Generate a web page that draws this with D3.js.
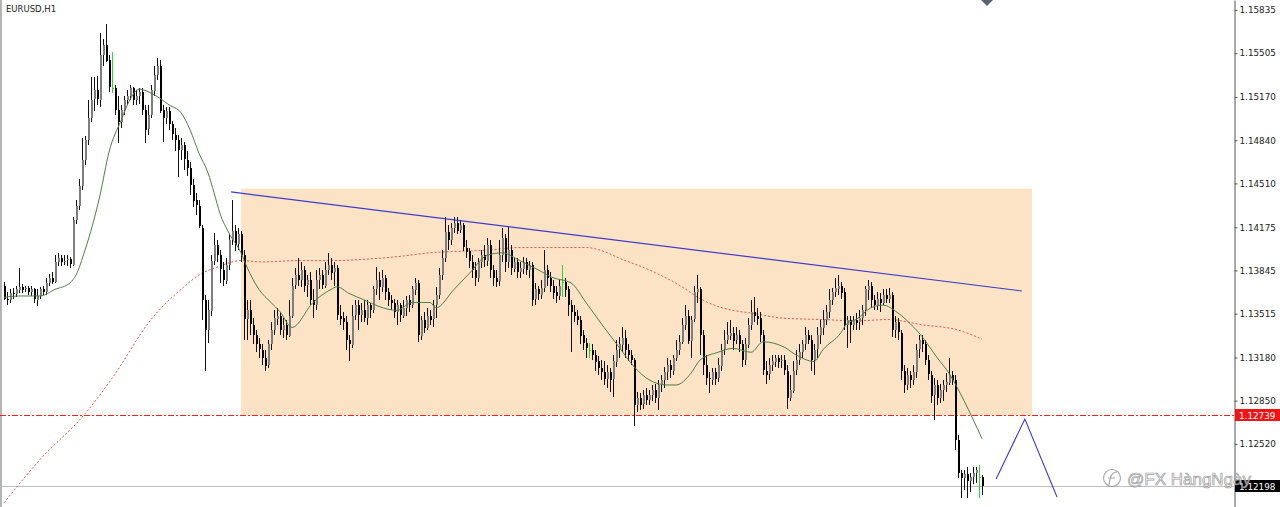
<!DOCTYPE html>
<html><head><meta charset="utf-8">
<script src="https://cdn.jsdelivr.net/npm/d3@7"></script>
<style>html,body{margin:0;padding:0;background:#fff;overflow:hidden}</style>
</head><body>
<svg id="c" width="1280" height="507"></svg>
<script>
const symbolTitle = "EURUSD,H1";
const watermark = "@FX HàngNgày";

const open = [
1.1373,1.1363,1.1362,1.1367,1.1366,1.1370,1.1372,1.1370,1.1371,1.1368,
1.1370,1.1362,1.1365,1.1370,1.1368,1.1375,1.1379,1.1376,1.1391,1.1394,
1.1391,1.1392,1.1393,1.1389,1.1423,1.1434,1.1449,1.1469,1.1484,1.1501,
1.1515,1.1522,1.1515,1.1549,1.1557,1.1545,1.1524,1.1524,1.1507,1.1498,
1.1507,1.1515,1.1518,1.1524,1.1515,1.1518,1.1521,1.1507,1.1492,1.1503,
1.1522,1.1534,1.1541,1.1507,1.1501,1.1506,1.1496,1.1488,1.1484,1.1476,
1.1480,1.1469,1.1463,1.1450,1.1438,1.1434,1.1417,1.1362,1.1339,1.1354,
1.1392,1.1404,1.1396,1.1385,1.1377,1.1389,1.1408,1.1415,1.1404,1.1412,
1.1396,1.1347,1.1354,1.1343,1.1335,1.1328,1.1324,1.1318,1.1312,1.1328,
1.1339,1.1348,1.1350,1.1339,1.1343,1.1335,1.1350,1.1373,1.1381,1.1377,
1.1385,1.1373,1.1377,1.1362,1.1358,1.1377,1.1381,1.1373,1.1385,1.1389,
1.1383,1.1386,1.1350,1.1348,1.1345,1.1331,1.1328,1.1350,1.1358,1.1350,
1.1354,1.1348,1.1358,1.1354,1.1370,1.1377,1.1372,1.1379,1.1368,1.1362,
1.1360,1.1353,1.1358,1.1350,1.1356,1.1362,1.1358,1.1370,1.1375,1.1335,
1.1347,1.1341,1.1350,1.1347,1.1358,1.1366,1.1381,1.1394,1.1414,1.1408,
1.1417,1.1421,1.1415,1.1419,1.1402,1.1399,1.1391,1.1385,1.1379,1.1391,
1.1396,1.1392,1.1404,1.1385,1.1379,1.1376,1.1396,1.1409,1.1391,1.1400,
1.1386,1.1391,1.1383,1.1386,1.1391,1.1385,1.1389,1.1362,1.1370,1.1366,
1.1371,1.1385,1.1379,1.1373,1.1368,1.1365,1.1376,1.1376,1.1370,1.1358,
1.1353,1.1350,1.1347,1.1335,1.1329,1.1324,1.1324,1.1320,1.1315,1.1310,
1.1307,1.1302,1.1307,1.1301,1.1315,1.1324,1.1328,1.1333,1.1324,1.1320,
1.1316,1.1282,1.1287,1.1282,1.1289,1.1285,1.1289,1.1293,1.1287,1.1297,
1.1301,1.1307,1.1312,1.1308,1.1318,1.1324,1.1330,1.1343,1.1350,1.1331,
1.1347,1.1368,1.1370,1.1335,1.1312,1.1302,1.1301,1.1307,1.1302,1.1312,
1.1324,1.1331,1.1335,1.1337,1.1331,1.1335,1.1328,1.1316,1.1328,1.1343,
1.1353,1.1350,1.1348,1.1335,1.1308,1.1305,1.1312,1.1315,1.1318,1.1315,
1.1316,1.1308,1.1287,1.1293,1.1308,1.1316,1.1322,1.1328,1.1335,1.1331,
1.1316,1.1324,1.1335,1.1341,1.1347,1.1353,1.1362,1.1368,1.1371,1.1373,
1.1368,1.1343,1.1347,1.1343,1.1347,1.1345,1.1348,1.1354,1.1370,1.1373,
1.1362,1.1358,1.1363,1.1360,1.1366,1.1363,1.1366,1.1339,1.1345,1.1337,
1.1308,1.1297,1.1305,1.1301,1.1307,1.1324,1.1331,1.1328,1.1316,1.1305,
1.1289,1.1297,1.1287,1.1293,1.1297,1.1299,1.1305,1.1301,1.1255,1.1230,
1.1226,1.1229,1.1224,1.1227,1.1230,1.1227,1.1227];

const high = [
1.1376,1.1368,1.1370,1.1371,1.1373,1.1386,1.1374,1.1373,1.1373,1.1373,
1.1371,1.1370,1.1372,1.1373,1.1379,1.1382,1.1383,1.1396,1.1398,1.1396,
1.1396,1.1396,1.1395,1.1425,1.1438,1.1454,1.1486,1.1487,1.1515,1.1532,
1.1532,1.1533,1.1566,1.1561,1.1573,1.1549,1.1551,1.1526,1.1518,1.1511,
1.1518,1.1522,1.1526,1.1525,1.1522,1.1524,1.1524,1.1511,1.1511,1.1526,
1.1541,1.1547,1.1545,1.1511,1.1509,1.1509,1.1499,1.1493,1.1488,1.1486,
1.1483,1.1476,1.1467,1.1454,1.1444,1.1438,1.1419,1.1366,1.1362,1.1396,
1.1413,1.1408,1.1400,1.1391,1.1394,1.1412,1.1438,1.1419,1.1417,1.1415,
1.1400,1.1362,1.1362,1.1348,1.1339,1.1333,1.1328,1.1324,1.1331,1.1345,
1.1354,1.1356,1.1353,1.1348,1.1347,1.1362,1.1379,1.1386,1.1394,1.1391,
1.1388,1.1381,1.1383,1.1370,1.1385,1.1386,1.1385,1.1391,1.1398,1.1394,
1.1391,1.1389,1.1358,1.1353,1.1350,1.1335,1.1358,1.1362,1.1362,1.1360,
1.1362,1.1362,1.1360,1.1373,1.1387,1.1383,1.1385,1.1381,1.1371,1.1366,
1.1363,1.1362,1.1360,1.1362,1.1365,1.1366,1.1373,1.1379,1.1377,1.1350,
1.1353,1.1356,1.1354,1.1362,1.1372,1.1386,1.1400,1.1425,1.1419,1.1421,
1.1425,1.1425,1.1423,1.1421,1.1408,1.1402,1.1396,1.1391,1.1394,1.1400,
1.1404,1.1409,1.1408,1.1389,1.1385,1.1408,1.1417,1.1412,1.1418,1.1404,
1.1394,1.1394,1.1391,1.1395,1.1394,1.1392,1.1391,1.1375,1.1373,1.1377,
1.1400,1.1389,1.1383,1.1377,1.1373,1.1377,1.1389,1.1379,1.1373,1.1362,
1.1358,1.1354,1.1350,1.1339,1.1333,1.1329,1.1328,1.1324,1.1319,1.1316,
1.1315,1.1312,1.1310,1.1320,1.1331,1.1334,1.1341,1.1339,1.1328,1.1324,
1.1318,1.1292,1.1291,1.1293,1.1295,1.1293,1.1297,1.1298,1.1301,1.1305,
1.1311,1.1318,1.1316,1.1320,1.1331,1.1335,1.1348,1.1358,1.1354,1.1350,
1.1373,1.1381,1.1372,1.1339,1.1320,1.1307,1.1310,1.1310,1.1318,1.1328,
1.1339,1.1345,1.1347,1.1341,1.1341,1.1339,1.1331,1.1333,1.1348,1.1362,
1.1364,1.1356,1.1353,1.1339,1.1315,1.1318,1.1320,1.1320,1.1320,1.1320,
1.1320,1.1312,1.1305,1.1315,1.1324,1.1328,1.1331,1.1341,1.1339,1.1335,
1.1328,1.1341,1.1347,1.1354,1.1358,1.1370,1.1371,1.1379,1.1381,1.1376,
1.1371,1.1350,1.1350,1.1350,1.1352,1.1354,1.1358,1.1373,1.1377,1.1376,
1.1366,1.1368,1.1367,1.1370,1.1370,1.1371,1.1368,1.1350,1.1348,1.1339,
1.1312,1.1310,1.1308,1.1312,1.1328,1.1335,1.1335,1.1331,1.1320,1.1308,
1.1302,1.1301,1.1298,1.1301,1.1306,1.1318,1.1308,1.1305,1.1259,1.1232,
1.1232,1.1234,1.1230,1.1234,1.1234,1.1236,1.1228];

const low = [
1.1362,1.1358,1.1360,1.1363,1.1364,1.1367,1.1367,1.1368,1.1366,1.1365,
1.1360,1.1357,1.1363,1.1366,1.1366,1.1373,1.1374,1.1375,1.1388,1.1388,
1.1389,1.1388,1.1386,1.1388,1.1420,1.1431,1.1446,1.1465,1.1480,1.1498,
1.1506,1.1511,1.1509,1.1541,1.1544,1.1521,1.1520,1.1503,1.1482,1.1493,
1.1503,1.1511,1.1515,1.1511,1.1511,1.1512,1.1503,1.1482,1.1488,1.1501,
1.1518,1.1530,1.1505,1.1483,1.1496,1.1492,1.1484,1.1476,1.1456,1.1469,
1.1461,1.1457,1.1442,1.1433,1.1427,1.1417,1.1347,1.1308,1.1329,1.1350,
1.1389,1.1391,1.1375,1.1373,1.1374,1.1385,1.1404,1.1399,1.1400,1.1391,
1.1331,1.1331,1.1335,1.1328,1.1322,1.1318,1.1312,1.1308,1.1310,1.1324,
1.1335,1.1343,1.1335,1.1333,1.1331,1.1334,1.1348,1.1370,1.1373,1.1372,
1.1368,1.1364,1.1358,1.1348,1.1354,1.1370,1.1370,1.1371,1.1381,1.1377,
1.1373,1.1347,1.1343,1.1339,1.1324,1.1315,1.1325,1.1347,1.1339,1.1345,
1.1345,1.1343,1.1348,1.1352,1.1366,1.1362,1.1368,1.1362,1.1357,1.1354,
1.1348,1.1343,1.1345,1.1348,1.1350,1.1353,1.1356,1.1366,1.1330,1.1331,
1.1337,1.1339,1.1343,1.1341,1.1348,1.1363,1.1377,1.1391,1.1400,1.1404,
1.1413,1.1412,1.1413,1.1399,1.1394,1.1386,1.1379,1.1373,1.1376,1.1386,
1.1387,1.1388,1.1379,1.1373,1.1372,1.1373,1.1391,1.1383,1.1386,1.1381,
1.1383,1.1379,1.1379,1.1382,1.1381,1.1379,1.1357,1.1358,1.1362,1.1363,
1.1368,1.1373,1.1368,1.1363,1.1360,1.1362,1.1364,1.1364,1.1350,1.1322,
1.1345,1.1343,1.1328,1.1324,1.1318,1.1318,1.1316,1.1308,1.1305,1.1301,
1.1297,1.1295,1.1292,1.1288,1.1311,1.1318,1.1322,1.1318,1.1315,1.1312,
1.1266,1.1276,1.1278,1.1279,1.1282,1.1282,1.1285,1.1283,1.1278,1.1292,
1.1295,1.1301,1.1302,1.1305,1.1315,1.1320,1.1328,1.1339,1.1328,1.1318,
1.1345,1.1360,1.1320,1.1305,1.1297,1.1291,1.1297,1.1297,1.1299,1.1308,
1.1320,1.1328,1.1331,1.1324,1.1328,1.1322,1.1311,1.1312,1.1325,1.1339,
1.1345,1.1343,1.1330,1.1305,1.1298,1.1301,1.1308,1.1311,1.1310,1.1310,
1.1305,1.1279,1.1285,1.1291,1.1305,1.1312,1.1318,1.1324,1.1328,1.1308,
1.1305,1.1318,1.1328,1.1335,1.1343,1.1348,1.1358,1.1364,1.1366,1.1363,
1.1339,1.1325,1.1329,1.1339,1.1339,1.1339,1.1343,1.1350,1.1362,1.1356,
1.1354,1.1354,1.1353,1.1358,1.1360,1.1360,1.1334,1.1333,1.1331,1.1301,
1.1291,1.1293,1.1295,1.1297,1.1302,1.1318,1.1322,1.1312,1.1301,1.1283,
1.1270,1.1282,1.1283,1.1285,1.1292,1.1297,1.1297,1.1247,1.1226,1.1211,
1.1217,1.1211,1.1215,1.1221,1.1222,1.1211,1.1213];

const close = [
1.1363,1.1362,1.1367,1.1366,1.1370,1.1372,1.1370,1.1371,1.1368,1.1370,
1.1362,1.1365,1.1370,1.1368,1.1375,1.1379,1.1376,1.1391,1.1394,1.1391,
1.1392,1.1393,1.1389,1.1423,1.1434,1.1449,1.1469,1.1484,1.1501,1.1515,
1.1522,1.1515,1.1549,1.1557,1.1545,1.1524,1.1524,1.1507,1.1498,1.1507,
1.1515,1.1518,1.1524,1.1515,1.1518,1.1521,1.1507,1.1492,1.1503,1.1522,
1.1534,1.1541,1.1507,1.1501,1.1506,1.1496,1.1488,1.1484,1.1476,1.1480,
1.1469,1.1463,1.1450,1.1438,1.1434,1.1419,1.1362,1.1339,1.1354,1.1392,
1.1404,1.1396,1.1385,1.1377,1.1389,1.1408,1.1415,1.1404,1.1412,1.1396,
1.1347,1.1354,1.1343,1.1335,1.1328,1.1324,1.1318,1.1312,1.1328,1.1339,
1.1348,1.1350,1.1339,1.1343,1.1335,1.1350,1.1373,1.1381,1.1377,1.1385,
1.1373,1.1377,1.1362,1.1358,1.1377,1.1381,1.1373,1.1385,1.1389,1.1383,
1.1386,1.1350,1.1348,1.1345,1.1331,1.1328,1.1350,1.1358,1.1350,1.1354,
1.1348,1.1358,1.1354,1.1370,1.1377,1.1372,1.1379,1.1368,1.1362,1.1360,
1.1353,1.1358,1.1350,1.1356,1.1362,1.1358,1.1370,1.1375,1.1335,1.1347,
1.1341,1.1350,1.1347,1.1358,1.1366,1.1381,1.1394,1.1414,1.1408,1.1417,
1.1421,1.1415,1.1419,1.1402,1.1399,1.1391,1.1385,1.1379,1.1391,1.1396,
1.1392,1.1404,1.1385,1.1379,1.1376,1.1396,1.1409,1.1391,1.1400,1.1386,
1.1391,1.1383,1.1386,1.1391,1.1385,1.1389,1.1362,1.1370,1.1366,1.1371,
1.1385,1.1379,1.1373,1.1368,1.1365,1.1373,1.1376,1.1370,1.1358,1.1353,
1.1350,1.1347,1.1335,1.1329,1.1325,1.1324,1.1320,1.1315,1.1310,1.1307,
1.1302,1.1307,1.1301,1.1315,1.1324,1.1328,1.1333,1.1324,1.1320,1.1316,
1.1282,1.1287,1.1282,1.1289,1.1285,1.1289,1.1293,1.1287,1.1297,1.1301,
1.1307,1.1312,1.1308,1.1318,1.1324,1.1330,1.1343,1.1350,1.1331,1.1347,
1.1368,1.1370,1.1335,1.1312,1.1302,1.1301,1.1307,1.1302,1.1312,1.1324,
1.1331,1.1335,1.1337,1.1331,1.1335,1.1328,1.1316,1.1328,1.1343,1.1353,
1.1350,1.1348,1.1335,1.1308,1.1305,1.1312,1.1315,1.1318,1.1315,1.1316,
1.1308,1.1287,1.1293,1.1308,1.1316,1.1322,1.1328,1.1335,1.1331,1.1316,
1.1324,1.1335,1.1341,1.1347,1.1353,1.1362,1.1368,1.1371,1.1373,1.1368,
1.1343,1.1347,1.1343,1.1347,1.1345,1.1348,1.1354,1.1370,1.1373,1.1362,
1.1358,1.1363,1.1360,1.1366,1.1363,1.1366,1.1339,1.1345,1.1337,1.1308,
1.1297,1.1305,1.1301,1.1307,1.1324,1.1331,1.1328,1.1316,1.1305,1.1289,
1.1297,1.1287,1.1293,1.1297,1.1299,1.1305,1.1301,1.1255,1.1230,1.1226,
1.1229,1.1224,1.1227,1.1230,1.1232,1.1227,1.12198];

// fast moving average (green), sampled at bar indices
const maFastIdx = [0,5,12,17,22,24,27,32,35,39,42,45,49,52,55,59,62,65,68,70,72,75,79,81,85,89,92,96,103,109,111,115,120,125,131,136,142,144,150,155,161,166,172,178,183,189,194,200,205,210,215,221,224,229,232,238,243,249,253,260,264,270,273,279,281,284,289,293,298,302,306,311,315,320,326];
const maFast = [1.1364,1.1365,1.1365,1.1370,1.1375,1.1381,1.1400,1.1442,1.1475,1.1499,1.1515,1.1523,1.1520,1.1516,1.1511,1.1505,1.1492,1.1474,1.1459,1.1444,1.1428,1.1413,1.1398,1.1387,1.1370,1.1360,1.1353,1.1341,1.1360,1.1370,1.1372,1.1367,1.1362,1.1357,1.1354,1.1360,1.1360,1.1356,1.1370,1.1382,1.1396,1.1398,1.1392,1.1385,1.1379,1.1375,1.1360,1.1341,1.1326,1.1311,1.1301,1.1297,1.1297,1.1306,1.1316,1.1322,1.1325,1.1322,1.1330,1.1326,1.1320,1.1315,1.1324,1.1337,1.1344,1.1347,1.1356,1.1358,1.1352,1.1344,1.1334,1.1318,1.1306,1.1285,1.1256];

// slow moving average (red dotted)
const maSlowIdx = [0,12,27,36,49,60,65,71,79,86,98,109,120,131,142,150,161,172,183,189,194,200,205,215,226,232,238,243,249,260,273,284,295,306,318,326];
const maSlow = [1.1207,1.1240,1.1275,1.1302,1.1347,1.1372,1.1381,1.1387,1.1392,1.1391,1.1392,1.1392,1.1393,1.1395,1.1398,1.1399,1.1400,1.1402,1.1402,1.1402,1.1402,1.1399,1.1394,1.1385,1.1372,1.1363,1.1357,1.1354,1.1352,1.1348,1.1347,1.1346,1.1347,1.1343,1.1339,1.1332];

const priceTicks = [1.15835,1.15505,1.15170,1.14840,1.14510,1.14175,1.13845,1.13515,1.13180,1.12850,1.12520];
const levelPrice = 1.12739;
const bidPrice = 1.12198;

// drawn objects in (bar index, price)
const zoneBars = [79, 342.7];
const zonePrices = [1.14470, 1.12739];
const trendBars = [75.7, 339.3];
const trendPrices = [1.14445, 1.13688];
const zigzagBars = [330.7, 340.3, 351];
const zigzagPrices = [1.12252, 1.12710, 1.12114];

const W = 1280, H = 507;
const svg = d3.select("#c");
const x = d3.scaleLinear().domain([0, close.length - 1]).range([4, 982]);
const y = d3.scaleLinear().domain([1.12038, 1.15911]).range([H, 0]);

svg.append("rect").attr("width", W).attr("height", H).attr("fill", "#fff");
svg.append("rect").attr("x", 0).attr("y", 0).attr("width", 2).attr("height", H).attr("fill", "#b4b4b4");

// zone rectangle
svg.append("rect")
  .attr("x", x(zoneBars[0])).attr("y", y(zonePrices[0]))
  .attr("width", x(zoneBars[1]) - x(zoneBars[0]))
  .attr("height", y(zonePrices[1]) - y(zonePrices[0]))
  .attr("fill", "#fde3c5");

// horizontal level line
const ly = Math.round(y(levelPrice)) + 0.5;
svg.append("line").attr("x1", 0).attr("x2", 1234)
  .attr("y1", ly).attr("y2", ly)
  .attr("stroke", "#ff1e1e").attr("stroke-width", 1).attr("stroke-dasharray", "6,2,2,2");
// bid line
const by = Math.round(y(bidPrice)) + 0.5;
svg.append("line").attr("x1", 0).attr("x2", 1234)
  .attr("y1", by).attr("y2", by)
  .attr("stroke", "#bdbdbd").attr("stroke-width", 1);

// slow MA
const slowPts = maSlowIdx.map((d, k) => [d, maSlow[k]]);
svg.append("path").datum(slowPts)
  .attr("d", d3.line().x(d => x(d[0])).y(d => y(d[1])).curve(d3.curveMonotoneX))
  .attr("fill", "none").attr("stroke", "#e4524c").attr("stroke-width", 1).attr("stroke-dasharray", "2,2");

// candles
const idx = d3.range(close.length);
const isDoji = i => Math.abs(close[i] - open[i]) < 1e-9;
const cg = svg.append("g").attr("shape-rendering", "crispEdges");
cg.selectAll("line.wick").data(idx).join("line").attr("class", "wick")
  .attr("x1", i => Math.round(x(i)) + 0.5).attr("x2", i => Math.round(x(i)) + 0.5)
  .attr("y1", i => y(high[i])).attr("y2", i => y(low[i]))
  .attr("stroke", i => isDoji(i) ? "#2fd42f" : "#111").attr("stroke-width", 1);
cg.selectAll("rect.body").data(idx).join("rect").attr("class", "body")
  .attr("x", i => Math.round(x(i)))
  .attr("width", 2)
  .attr("y", i => Math.round(y(Math.max(open[i], close[i]))))
  .attr("height", i => Math.max(1, Math.round(Math.abs(y(open[i]) - y(close[i])))))
  .attr("fill", i => isDoji(i) ? "#2fd42f" : (close[i] > open[i] ? "#7e7e7e" : "#000"));

// fast MA
const fastPts = maFastIdx.map((d, k) => [d, maFast[k]]);
svg.append("path").datum(fastPts)
  .attr("d", d3.line().x(d => x(d[0])).y(d => y(d[1])).curve(d3.curveMonotoneX))
  .attr("fill", "none").attr("stroke", "#4b7f45").attr("stroke-width", 1);

// trendline
svg.append("line")
  .attr("x1", x(trendBars[0])).attr("y1", y(trendPrices[0]))
  .attr("x2", x(trendBars[1])).attr("y2", y(trendPrices[1]))
  .attr("stroke", "#3c3cc8").attr("stroke-width", 1.2);
// zigzag
svg.append("path").datum(zigzagBars.map((b, k) => [b, zigzagPrices[k]]))
  .attr("d", d3.line().x(d => x(d[0])).y(d => y(d[1])))
  .attr("fill", "none").attr("stroke", "#3c3cc8").attr("stroke-width", 1.1);

// price axis
const axis = d3.axisRight(y).tickValues(priceTicks).tickFormat(d3.format(".5f"))
  .tickSize(3).tickSizeOuter(0).tickPadding(2);
const ga = svg.append("g").attr("transform", "translate(1234.5,0)").call(axis);
ga.select(".domain").attr("stroke", "#555");
ga.selectAll(".tick line").attr("stroke", "#555");
ga.selectAll("text").attr("font-family", "DejaVu Sans").attr("font-size", "8.8px").attr("fill", "#222");

// price labels
function priceLabel(p, bg) {
  const yy = Math.round(y(p));
  svg.append("rect").attr("x", 1235).attr("y", yy - 6).attr("width", 45).attr("height", 12).attr("fill", bg);
  svg.append("text").attr("x", 1239).attr("y", yy + 3.5).text(d3.format(".5f")(p))
    .attr("font-family", "DejaVu Sans").attr("font-size", "8.8px").attr("fill", "#fff");
}
priceLabel(levelPrice, "#f01414");
priceLabel(bidPrice, "#000");

// shift marker at top
svg.append("path").attr("d", "M981,0 L993,0 L987,6 Z").attr("fill", "#5b6372");

// title
svg.append("text").attr("x", 6).attr("y", 12).text(symbolTitle)
  .attr("font-family", "DejaVu Sans").attr("font-size", "8.5px").attr("fill", "#222");

// watermark
const wm = svg.append("g").attr("opacity", 0.85);
wm.append("circle").attr("cx", 1112).attr("cy", 478).attr("r", 8.5)
  .attr("fill", "none").attr("stroke", "#9c9c9c").attr("stroke-width", 1.2);
wm.append("path").attr("d", "M1109,485 C1110,478 1111,472 1117,472 M1108,478 L1115,478")
  .attr("fill", "none").attr("stroke", "#9c9c9c").attr("stroke-width", 1.2);
wm.append("text").attr("x", 1127).attr("y", 485).text(watermark)
  .attr("font-family", "Liberation Sans").attr("font-size", "17px")
  .attr("fill", "#f6f6f6").attr("stroke", "#8f8f8f").attr("stroke-width", 0.7);
</script>
</body></html>
